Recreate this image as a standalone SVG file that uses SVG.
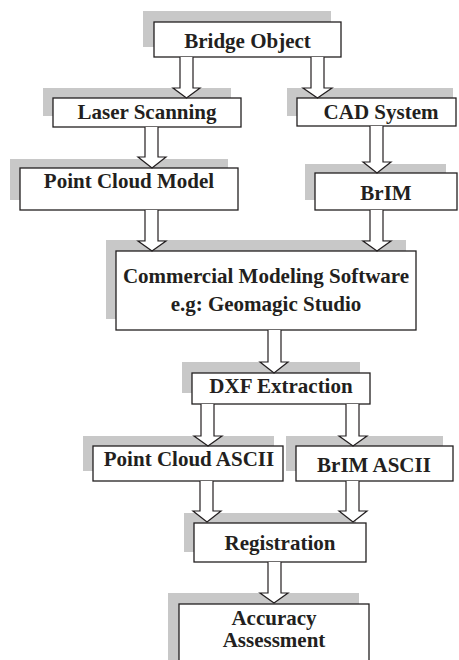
<svg xmlns="http://www.w3.org/2000/svg" width="459" height="660" viewBox="0 0 459 660">
<style>
.sh{fill:#c8c8c8;stroke:none}
.bx{fill:#ffffff;stroke:#231f20;stroke-width:1.3}
.ar{fill:#ffffff;stroke:#231f20;stroke-width:1.2;stroke-linejoin:miter}
text{font-family:"Liberation Serif","Times New Roman",serif;font-weight:bold;font-size:21px;fill:#231f20;text-anchor:middle}
</style>
<rect width="459" height="660" fill="#ffffff"/>
<g id="bridge-object">
<rect class="sh" x="143" y="11" width="188" height="36"/>
<rect class="bx" x="154" y="22" width="187" height="35"/>
<text x="247.5" y="48">Bridge Object</text>
</g>
<g id="laser-scanning">
<rect class="sh" x="43" y="88" width="188" height="28"/>
<rect class="bx" x="53" y="98" width="188" height="29"/>
<text x="147" y="119">Laser Scanning</text>
</g>
<g id="cad-system">
<rect class="sh" x="287" y="88" width="166" height="28"/>
<rect class="bx" x="297" y="98" width="159" height="28"/>
<text x="381" y="119">CAD System</text>
</g>
<g id="point-cloud-model">
<rect class="sh" x="10" y="159" width="218" height="41"/>
<rect class="bx" x="20" y="168" width="218" height="42"/>
<text x="129" y="188">Point Cloud Model</text>
</g>
<g id="brim">
<rect class="sh" x="305" y="164" width="141" height="36"/>
<rect class="bx" x="315" y="173" width="142" height="37"/>
<text x="386" y="200">BrIM</text>
</g>
<g id="commercial-software">
<rect class="sh" x="106" y="240" width="300" height="79"/>
<rect class="bx" x="116" y="251" width="300" height="79"/>
<text x="266" y="283">Commercial Modeling Software</text>
<text x="266" y="311">e.g: Geomagic Studio</text>
</g>
<g id="dxf-extraction">
<rect class="sh" x="182" y="362" width="178" height="31"/>
<rect class="bx" x="192" y="373" width="178" height="31"/>
<text x="281" y="393">DXF Extraction</text>
</g>
<g id="point-cloud-ascii">
<rect class="sh" x="83" y="436" width="191" height="35"/>
<rect class="bx" x="93" y="446" width="190" height="35"/>
<text x="189" y="466">Point Cloud ASCII</text>
</g>
<g id="brim-ascii">
<rect class="sh" x="286" y="436" width="157" height="35"/>
<rect class="bx" x="296" y="446" width="157" height="35"/>
<text x="374" y="472">BrIM ASCII</text>
</g>
<g id="registration">
<rect class="sh" x="184" y="513" width="172" height="39"/>
<rect class="bx" x="194" y="523" width="172" height="39"/>
<text x="280" y="550">Registration</text>
</g>
<g id="accuracy-assessment">
<rect class="sh" x="168" y="593" width="191" height="80"/>
<rect class="bx" x="179" y="604" width="190" height="70"/>
<text x="274" y="625">Accuracy</text>
<text x="274" y="647">Assessment</text>
</g>
<g id="connectors">
<path class="ar" d="M180,57 V88 H173 L186.5,98 L200,88 H193 V57"/>
<path class="ar" d="M311,57 V88 H303 L317.5,98 L332,88 H324 V57"/>
<path class="ar" d="M145,127 V157 H138 L152,168 L166,157 H158 V127"/>
<path class="ar" d="M370,126 V162 H363 L377,173 L391,162 H383 V126"/>
<path class="ar" d="M145,210 V241 H138 L152,251 L166,241 H158 V210"/>
<path class="ar" d="M370,210 V241 H363 L377,251 L391,241 H383 V210"/>
<path class="ar" d="M268,330 V362 H260 L274,373 L288,362 H281 V330"/>
<path class="ar" d="M201,404 V436 H194 L208,446 L222,436 H214 V404"/>
<path class="ar" d="M346,404 V436 H339 L353,446 L367,436 H359 V404"/>
<path class="ar" d="M200,481 V511 H193 L207,522 L221,511 H213 V481"/>
<path class="ar" d="M346,481 V511 H339 L353,522 L367,511 H359 V481"/>
<path class="ar" d="M268,562 V593 H260 L274,603 L288,593 H281 V562"/>
</g>
</svg>
